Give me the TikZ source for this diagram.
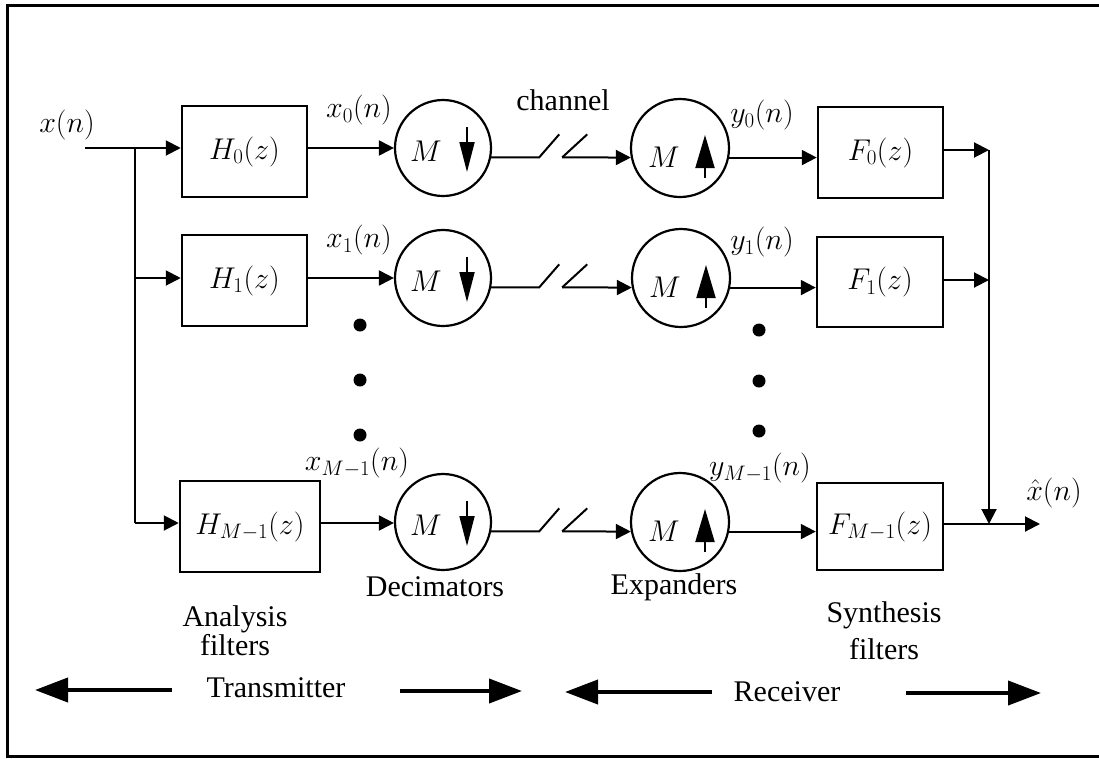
\RequirePackage{fix-cm}
\documentclass[tikz,border=0pt]{standalone}
\usepackage{fontspec}
\setmainfont{Liberation Serif}
\usetikzlibrary{arrows.meta,calc}
\begin{document}
\begin{tikzpicture}[x=1pt,y=-1pt,
  every node/.style={font=\fontsize{30}{34}\selectfont, inner sep=0pt},
  blk/.style={draw, line width=2.5pt, minimum width=125pt, minimum height=91pt},
  circ/.style={draw, circle, line width=2.2pt, minimum size=96pt},
  conn/.style={line width=2pt, -{Triangle[length=15pt,width=15pt]}},
  plain/.style={line width=2pt},
  darr/.style={line width=1.8pt, -{Triangle[length=30pt,width=15pt]}},
  uarr/.style={line width=2pt, -{Triangle[length=33pt,width=19pt]}},
  bigarr/.style={line width=4pt, -{Triangle[length=33pt,width=24pt]}},
  mlab/.style={font=\fontsize{30}{34}\selectfont},
  dot/.style={fill=black}]
\useasboundingbox (0,0) rectangle (1099,758);
% frame
\draw[line width=3pt] (1099,5) -- (7,5) -- (7,756) -- (1099,756);

% analysis filters
\node[blk] (H0) at (244.5,151.5) {$H_0(z)$};
\node[blk] (H1) at (244.5,280.5) {$H_1(z)$};
\node[blk, minimum width=140pt] (HM) at (250,526.5) {$H_{M-1}(z)$};
% decimators
\node[circ] (D0) at (443,148) {};
\node[circ] (D1) at (443,278) {};
\node[circ] (DM) at (443,522) {};
% expanders
\node[circ, minimum size=98pt] (E0) at (680,148) {};
\node[circ, minimum size=98pt] (E1) at (681,278) {};
\node[circ, minimum size=98pt] (EM) at (680,522) {};
% synthesis filters
\node[blk] (F0) at (880.5,152.5) {$F_0(z)$};
\node[blk, minimum width=126pt, minimum height=90pt] (F1) at (880,282) {$F_1(z)$};
\node[blk, minimum width=126pt, minimum height=87pt] (FM) at (880,526.5) {$F_{M-1}(z)$};

% M symbols and arrows inside circles
\foreach \n in {D0,D1,DM}{
  \node[mlab] at ($(\n)+(-17,3)$) {$M$};
  \draw[darr] ($(\n)+(24,-21)$) -- ($(\n)+(24,24)$);
}
\foreach \n in {E0,E1,EM}{
  \node[mlab] at ($(\n)+(-16,9)$) {$M$};
  \draw[uarr] ($(\n)+(25,30)$) -- ($(\n)+(25,-13)$);
}

% input and branches
\coordinate (in) at (85,148);
\coordinate (br0) at (135,148);
\coordinate (br1) at (135,278);
\coordinate (brM) at (135,523);
\draw[conn] (in) -- (in -| H0.west);
\draw[plain] (br0) -- (brM);
\draw[conn] (br1) -- (br1 -| H1.west);
\draw[conn] (brM) -- (brM -| HM.west);

% filters to decimators
\draw[conn] (H0.east |- D0) -- (D0);
\draw[conn] (H1.east |- D1) -- (D1);
\draw[conn] (HM.east |- 0,523) -- (DM.west |- 0,523);

% channel switches
\foreach \d/\e/\r in {D0/E0/0,D1/E1/1,DM/EM/M}{
  \draw[plain] (\d.-11) -- ++(48,0) coordinate (ca\r) -- ++(20,-23);
  \draw[plain] ($(ca\r)+(23,0)$) coordinate (cb\r) -- ++(25,-23);
  \draw[conn] (cb\r) -- (\e.191);
}

% expanders to synthesis filters
\draw[conn] (E0.-11) -- (E0.-11 -| F0.west);
\draw[conn] (E1.-11) -- (E1.-11 -| F1.west);
\draw[conn] (EM.-11) -- (EM.-11 -| FM.west);

% summation bus
\coordinate (bus0) at (989,150);
\coordinate (bus1) at (989,280);
\coordinate (busM) at (989,524);
\coordinate (out) at (1040,524);
\draw[conn] (F0.east |- bus0) -- (bus0);
\draw[conn] (F1.east |- bus1) -- (bus1);
\draw[conn] (bus0) -- (busM);
\draw[conn] (FM.east |- busM) -- (out);

% signal labels
\node (lx) at (67,125) {$x(n)$};
\node (lx0) at (359,110) {$x_0(n)$};
\node (lx1) at (359,240) {$x_1(n)$};
\node (lxM) at (357,463) {$x_{M-1}(n)$};
\node (ly0) at (762,115) {$y_0(n)$};
\node (ly1) at (762,242) {$y_1(n)$};
\node (lyM) at (760,468) {$y_{M-1}(n)$};
\node (lxh) at (1054,493) {$\hat{x}(n)$};
\node (lch) at (563,100) {channel};

% dots
\foreach \y in {325,380,435}{ \fill[dot] (360,\y) circle (6.5); }
\foreach \y in {330,381,431}{ \fill[dot] (759,\y) circle (6.5); }

% group captions
\node (dec) at (435,587) {Decimators};
\node (exp) at (674,587) {Expanders};
\node[align=center, font=\fontsize{30}{29}\selectfont] (ana) at (235,631) {Analysis\\filters};
\node[align=center, font=\fontsize{30}{37}\selectfont] (syn) at (884,631) {Synthesis\\filters};

% transmitter / receiver
\node (tx) at (276,688) {Transmitter};
\node (rx) at (787,692) {Receiver};
\coordinate (txl) at (172,690);
\coordinate (txL) at (35,690);
\coordinate (txr) at (400,691);
\coordinate (txR) at (522,691);
\coordinate (rxl) at (712,692);
\coordinate (rxL) at (565,692);
\coordinate (rxr) at (906,693);
\coordinate (rxR) at (1041,693);
\draw[bigarr] (txl) -- (txL);
\draw[bigarr] (txr) -- (txR);
\draw[bigarr] (rxl) -- (rxL);
\draw[bigarr] (rxr) -- (rxR);
\end{tikzpicture}
\end{document}
